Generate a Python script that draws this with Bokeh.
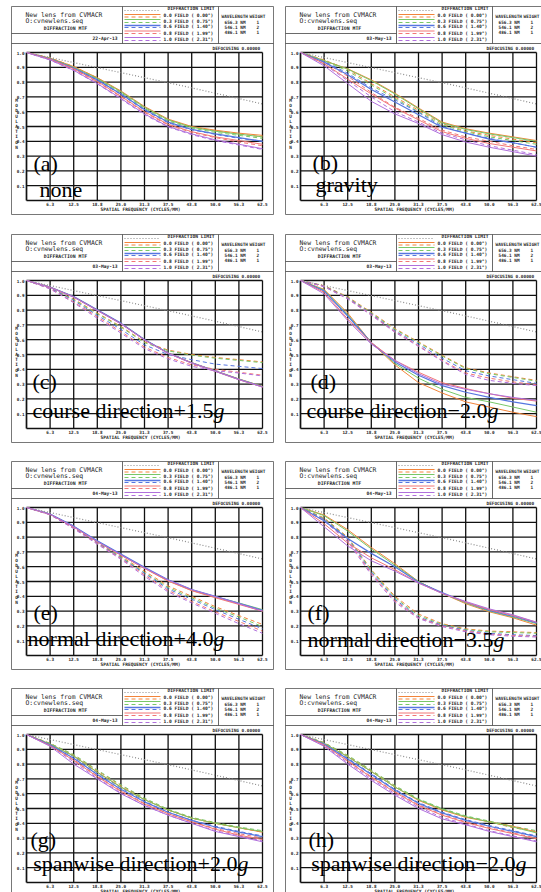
from bokeh.plotting import figure
from bokeh.layouts import column, row
from bokeh.models import Range1d
from bokeh.embed import file_html
from bokeh.resources import INLINE
from bokeh.core.properties import value

# ------------------------------------------------------------------ data
FREQ = [0, 6.25, 12.5, 18.75, 25.0, 31.25, 37.5, 43.75, 50.0, 56.25, 62.5]
FMAX = 62.5
X_TICKS = [6.25, 12.5, 18.75, 25.0, 31.25, 37.5, 43.75, 50.0, 56.25, 62.5]
X_TICK_LABELS = ["6.3", "12.5", "18.8", "25.0", "31.3", "37.5", "43.8", "50.0", "56.3", "62.5"]
Y_TICKS = [0.1, 0.2, 0.3, 0.4, 0.5, 0.6, 0.7, 0.8, 0.9, 1.0]
Y_TICK_LABELS = ["0.1", "0.2", "0.3", "0.4", "0.5", "0.6", "0.7", "0.8", "0.9", "1.0"]

DIFF_LIMIT = [1.0, 0.966, 0.932, 0.898, 0.864, 0.83, 0.796, 0.761, 0.725, 0.689, 0.652]

FIELDS = ["0.0", "0.3", "0.6", "0.8", "1.0"]
FIELD_ANGLES = ["0.00", "0.75", "1.40", "1.99", "2.31"]
WAVELENGTHS = ["656.3", "546.1", "486.1"]
WEIGHTS = ["1", "2", "1"]
DATES = ["22-Apr-13", "03-May-13", "03-May-13", "03-May-13",
         "04-May-13", "04-May-13", "04-May-13", "04-May-13"]
PANEL_TAGS = ["(a)", "(b)", "(c)", "(d)", "(e)", "(f)", "(g)", "(h)"]
PANEL_NAMES = ["none", "gravity", "course direction+1.5", "course direction\u22122.0",
               "normal direction+4.0", "normal direction\u22123.5",
               "spanwise direction+2.0", "spanwise direction\u22122.0"]
PANEL_ITALIC = ["", "", "g", "g", "g", "g", "g", "g"]

# tangential (solid) and sagittal (dashed) MTF, one list per field
A_TAN = [[1.0, 0.962, 0.905, 0.83, 0.74, 0.635, 0.55, 0.50, 0.475, 0.455, 0.44],
         [1.0, 0.960, 0.900, 0.825, 0.735, 0.63, 0.545, 0.495, 0.468, 0.448, 0.43],
         [1.0, 0.958, 0.895, 0.815, 0.72, 0.615, 0.53, 0.48, 0.45, 0.425, 0.40],
         [1.0, 0.955, 0.89, 0.805, 0.705, 0.60, 0.515, 0.465, 0.43, 0.405, 0.38],
         [1.0, 0.950, 0.88, 0.79, 0.69, 0.585, 0.50, 0.45, 0.41, 0.38, 0.35]]
A_SAG = [[1.0, 0.963, 0.905, 0.828, 0.735, 0.63, 0.545, 0.497, 0.47, 0.45, 0.43],
         [1.0, 0.961, 0.9, 0.82, 0.728, 0.622, 0.537, 0.49, 0.46, 0.44, 0.42],
         [1.0, 0.958, 0.893, 0.812, 0.717, 0.61, 0.525, 0.478, 0.447, 0.42, 0.40],
         [1.0, 0.954, 0.886, 0.80, 0.70, 0.595, 0.51, 0.46, 0.425, 0.395, 0.37],
         [1.0, 0.949, 0.878, 0.788, 0.686, 0.58, 0.497, 0.445, 0.405, 0.375, 0.345]]

B_TAN = [[1.0, 0.945, 0.89, 0.815, 0.725, 0.625, 0.53, 0.485, 0.455, 0.43, 0.405],
         [1.0, 0.945, 0.888, 0.81, 0.72, 0.62, 0.525, 0.48, 0.45, 0.425, 0.40],
         [1.0, 0.935, 0.85, 0.75, 0.665, 0.58, 0.495, 0.455, 0.415, 0.39, 0.36],
         [1.0, 0.925, 0.82, 0.72, 0.625, 0.545, 0.465, 0.42, 0.385, 0.36, 0.335],
         [1.0, 0.91, 0.79, 0.67, 0.585, 0.52, 0.445, 0.395, 0.36, 0.33, 0.30]]
B_SAG = [[1.0, 0.95, 0.885, 0.79, 0.70, 0.61, 0.52, 0.47, 0.44, 0.415, 0.39],
         [1.0, 0.945, 0.875, 0.78, 0.69, 0.60, 0.51, 0.465, 0.43, 0.405, 0.38],
         [1.0, 0.94, 0.86, 0.76, 0.68, 0.595, 0.50, 0.455, 0.42, 0.39, 0.36],
         [1.0, 0.935, 0.84, 0.73, 0.63, 0.555, 0.475, 0.43, 0.40, 0.37, 0.345],
         [1.0, 0.92, 0.81, 0.70, 0.60, 0.53, 0.455, 0.41, 0.37, 0.34, 0.31]]

C_TAN = [[1.0, 0.955, 0.89, 0.80, 0.71, 0.60, 0.51, 0.445, 0.39, 0.335, 0.285],
         [1.0, 0.955, 0.89, 0.80, 0.71, 0.60, 0.51, 0.444, 0.389, 0.334, 0.284],
         [1.0, 0.956, 0.892, 0.803, 0.712, 0.602, 0.51, 0.443, 0.388, 0.332, 0.282],
         [1.0, 0.954, 0.888, 0.798, 0.708, 0.598, 0.508, 0.442, 0.386, 0.33, 0.28],
         [1.0, 0.953, 0.887, 0.797, 0.707, 0.598, 0.508, 0.443, 0.387, 0.331, 0.28]]
C_SAG = [[1.0, 0.95, 0.875, 0.78, 0.69, 0.585, 0.53, 0.50, 0.48, 0.465, 0.45],
         [1.0, 0.95, 0.87, 0.775, 0.685, 0.58, 0.525, 0.495, 0.475, 0.46, 0.445],
         [1.0, 0.948, 0.865, 0.765, 0.67, 0.565, 0.50, 0.465, 0.435, 0.42, 0.405],
         [1.0, 0.945, 0.855, 0.755, 0.655, 0.55, 0.48, 0.43, 0.40, 0.38, 0.36],
         [1.0, 0.943, 0.85, 0.745, 0.645, 0.54, 0.47, 0.42, 0.39, 0.375, 0.355]]

D_TAN = [[1.0, 0.94, 0.78, 0.58, 0.43, 0.31, 0.24, 0.18, 0.145, 0.11, 0.08],
         [1.0, 0.935, 0.77, 0.58, 0.44, 0.34, 0.265, 0.21, 0.18, 0.145, 0.11],
         [1.0, 0.93, 0.76, 0.58, 0.45, 0.36, 0.29, 0.245, 0.21, 0.18, 0.155],
         [1.0, 0.92, 0.74, 0.58, 0.46, 0.38, 0.31, 0.27, 0.235, 0.205, 0.185],
         [1.0, 0.91, 0.73, 0.57, 0.46, 0.37, 0.30, 0.265, 0.235, 0.21, 0.19]]
D_SAG = [[1.0, 0.965, 0.89, 0.785, 0.675, 0.585, 0.495, 0.41, 0.375, 0.35, 0.325],
         [1.0, 0.963, 0.885, 0.78, 0.67, 0.58, 0.49, 0.405, 0.37, 0.345, 0.32],
         [1.0, 0.962, 0.882, 0.775, 0.66, 0.57, 0.475, 0.39, 0.355, 0.33, 0.305],
         [1.0, 0.96, 0.878, 0.77, 0.655, 0.56, 0.46, 0.375, 0.34, 0.315, 0.295],
         [1.0, 0.958, 0.875, 0.765, 0.65, 0.555, 0.455, 0.365, 0.325, 0.305, 0.29]]

E_TAN = [[1.0, 0.955, 0.87, 0.77, 0.68, 0.59, 0.505, 0.44, 0.395, 0.35, 0.30],
         [1.0, 0.955, 0.872, 0.772, 0.682, 0.592, 0.508, 0.443, 0.398, 0.355, 0.31],
         [1.0, 0.956, 0.874, 0.775, 0.686, 0.596, 0.512, 0.446, 0.40, 0.352, 0.305],
         [1.0, 0.953, 0.868, 0.768, 0.678, 0.588, 0.503, 0.438, 0.39, 0.345, 0.30],
         [1.0, 0.954, 0.87, 0.77, 0.68, 0.592, 0.51, 0.445, 0.398, 0.35, 0.30]]
E_SAG = [[1.0, 0.955, 0.865, 0.765, 0.67, 0.57, 0.47, 0.40, 0.33, 0.27, 0.21],
         [1.0, 0.955, 0.865, 0.762, 0.665, 0.56, 0.46, 0.39, 0.32, 0.26, 0.195],
         [1.0, 0.953, 0.862, 0.76, 0.66, 0.555, 0.45, 0.38, 0.31, 0.245, 0.18],
         [1.0, 0.952, 0.86, 0.757, 0.655, 0.545, 0.44, 0.365, 0.295, 0.23, 0.165],
         [1.0, 0.95, 0.857, 0.752, 0.65, 0.535, 0.43, 0.355, 0.285, 0.215, 0.15]]

F_TAN = [[1.0, 0.95, 0.85, 0.73, 0.62, 0.50, 0.42, 0.35, 0.295, 0.255, 0.205],
         [1.0, 0.945, 0.84, 0.72, 0.61, 0.50, 0.42, 0.355, 0.30, 0.26, 0.215],
         [1.0, 0.91, 0.79, 0.69, 0.60, 0.495, 0.425, 0.36, 0.305, 0.265, 0.22],
         [1.0, 0.89, 0.76, 0.66, 0.58, 0.49, 0.42, 0.36, 0.31, 0.27, 0.225],
         [1.0, 0.87, 0.74, 0.64, 0.57, 0.49, 0.42, 0.365, 0.315, 0.275, 0.225]]
F_SAG = [[1.0, 0.93, 0.80, 0.58, 0.40, 0.28, 0.215, 0.18, 0.165, 0.16, 0.155],
         [1.0, 0.925, 0.795, 0.575, 0.39, 0.27, 0.21, 0.175, 0.16, 0.155, 0.15],
         [1.0, 0.92, 0.79, 0.565, 0.38, 0.26, 0.205, 0.17, 0.15, 0.14, 0.135],
         [1.0, 0.915, 0.78, 0.555, 0.37, 0.255, 0.20, 0.165, 0.145, 0.135, 0.13],
         [1.0, 0.91, 0.77, 0.545, 0.36, 0.25, 0.195, 0.16, 0.14, 0.13, 0.125]]

G_TAN = [[1.0, 0.935, 0.855, 0.745, 0.645, 0.56, 0.49, 0.435, 0.40, 0.37, 0.34],
         [1.0, 0.935, 0.855, 0.745, 0.645, 0.56, 0.49, 0.435, 0.40, 0.37, 0.345],
         [1.0, 0.93, 0.84, 0.73, 0.63, 0.545, 0.475, 0.42, 0.375, 0.34, 0.31],
         [1.0, 0.925, 0.825, 0.715, 0.615, 0.53, 0.465, 0.41, 0.36, 0.32, 0.29],
         [1.0, 0.92, 0.80, 0.70, 0.60, 0.52, 0.455, 0.40, 0.345, 0.31, 0.275]]
G_SAG = [[1.0, 0.94, 0.86, 0.755, 0.655, 0.565, 0.49, 0.435, 0.40, 0.37, 0.34],
         [1.0, 0.94, 0.865, 0.76, 0.66, 0.57, 0.495, 0.44, 0.405, 0.375, 0.35],
         [1.0, 0.935, 0.85, 0.74, 0.64, 0.55, 0.475, 0.42, 0.38, 0.345, 0.315],
         [1.0, 0.93, 0.83, 0.72, 0.62, 0.535, 0.465, 0.41, 0.365, 0.33, 0.30],
         [1.0, 0.925, 0.815, 0.705, 0.605, 0.52, 0.455, 0.40, 0.35, 0.315, 0.28]]

H_TAN = [[1.0, 0.94, 0.85, 0.75, 0.645, 0.555, 0.49, 0.44, 0.41, 0.38, 0.34],
         [1.0, 0.94, 0.85, 0.75, 0.645, 0.56, 0.495, 0.445, 0.41, 0.375, 0.335],
         [1.0, 0.935, 0.835, 0.73, 0.625, 0.535, 0.47, 0.42, 0.38, 0.345, 0.31],
         [1.0, 0.93, 0.82, 0.71, 0.61, 0.52, 0.455, 0.405, 0.365, 0.33, 0.295],
         [1.0, 0.92, 0.80, 0.69, 0.59, 0.50, 0.43, 0.39, 0.345, 0.31, 0.275]]
H_SAG = [[1.0, 0.945, 0.855, 0.755, 0.65, 0.56, 0.495, 0.445, 0.41, 0.37, 0.345],
         [1.0, 0.945, 0.86, 0.76, 0.655, 0.565, 0.50, 0.45, 0.415, 0.38, 0.35],
         [1.0, 0.94, 0.84, 0.735, 0.63, 0.54, 0.475, 0.425, 0.385, 0.35, 0.315],
         [1.0, 0.935, 0.825, 0.715, 0.615, 0.525, 0.46, 0.41, 0.37, 0.335, 0.30],
         [1.0, 0.925, 0.81, 0.70, 0.60, 0.51, 0.44, 0.395, 0.35, 0.315, 0.28]]

PANEL_TAN = [A_TAN, B_TAN, C_TAN, D_TAN, E_TAN, F_TAN, G_TAN, H_TAN]
PANEL_SAG = [A_SAG, B_SAG, C_SAG, D_SAG, E_SAG, F_SAG, G_SAG, H_SAG]

# ------------------------------------------------------------------ styles / layout
FIELD_COLORS = ["#f2843a", "#78c868", "#5676e0", "#f27676", "#b070dc"]
DIFF_COLOR = "#8a8a8a"
ROW_H = [228, 227, 227, 210]
COL_W = [279, 262]
PANEL_LEFT = [11, 6]
PANEL_TOP = 6
PANEL_W = 262
PANEL_H = 208
PLOT_DX, PLOT_W = 15, 236
PLOT_DY, PLOT_H = 46, 148
# caption positions relative to panel (tag x, tag baseline) and (name x / italic start, name baseline)
TAG_POS = [(22, 157), (27, 156), (21, 147), (25, 147), (22, 151), (22, 151), (19, 151), (23, 151)]
NAME_POS = [(28, 183), (30, 178), (202, 176), (202, 176), (202, 177), (208, 178), (226, 175), (230, 175)]
LEG_SOLID = [8, 13, 19, 24.5, 31]
LEG_DASH = [10.5, 16, 21, 27, 34]
LEG_TEXT = [9, 14.5, 20, 26.5, 32.5]

MONO = value("DejaVu Sans Mono")
SERIF = value("Liberation Serif")
INK = "#1e1e1e"


def make_panel(i):
    r, c = divmod(i, 2)
    W, H = COL_W[c], ROW_H[r]
    L, T = PANEL_LEFT[c], PANEL_TOP
    ox, oy = L + PLOT_DX, T + PLOT_DY
    sx, sy = PLOT_W / FMAX, PLOT_H / 1.0
    p = figure(width=W, height=H,
               x_range=Range1d(-ox / sx, (W - ox) / sx),
               y_range=Range1d(1 - (H - oy) / sy, 1 + oy / sy),
               output_backend="svg", toolbar_location=None,
               x_axis_location=None, y_axis_location=None,
               min_border=0, background_fill_color="white",
               border_fill_color="white", outline_line_color=None)
    p.grid.visible = False
    p.extra_x_ranges = {"px": Range1d(0, W)}
    p.extra_y_ranges = {"px": Range1d(H, 0)}
    PX = dict(x_range_name="px", y_range_name="px")

    def txt(x, y, s, size, align="left", style="normal", baseline="middle",
            font=MONO, color=INK, **names):
        kw = names if names else PX
        p.text(x=x, y=y, text=s, text_font=font, text_font_size=size,
               text_align=align, text_baseline=baseline, text_font_style=style,
               text_color=color, **kw)

    # ---- frame of the panel
    p.quad(left=[L], right=[L + PANEL_W], top=[T], bottom=[T + PANEL_H],
           fill_color=None, line_color="#555555", line_width=0.8, **PX)
    p.segment(x0=[L, L + 111, L + 207, L], y0=[T + 37, T, T, T + 27],
              x1=[L + PANEL_W, L + 111, L + 207, L + 111],
              y1=[T + 37, T + 37, T + 37, T + 27],
              line_color="#444444", line_width=0.8, **PX)

    # ---- header: title block
    txt([L + 14, L + 14], [T + 8, T + 14.7], ["New lens from CVMACR", "O:cvnewlens.seq"], "6.4px")
    txt([L + 54], [T + 22.3], ["DIFFRACTION MTF"], "4.8px", align="center", style="bold")
    txt([L + 106], [T + 32.3], [DATES[i]], "4.6px", align="right", style="bold")

    # ---- header: legend block
    p.line([L + 113, L + 149], [T + 4, T + 4], line_color=DIFF_COLOR,
           line_dash="1 2", line_width=1.2, **PX)
    for k in range(5):
        p.line([L + 113, L + 149], [T + LEG_SOLID[k]] * 2, line_color=FIELD_COLORS[k],
               line_width=1.3 if k == 2 else 1.0, **PX)
        p.line([L + 113, L + 149], [T + LEG_DASH[k]] * 2, line_color=FIELD_COLORS[k],
               line_dash="4 3", line_width=1.0, **PX)
    txt([L + 156], [T + 2.3], ["DIFFRACTION LIMIT"], "4.6px", style="bold")
    txt([L + 152] * 5, [T + v for v in LEG_TEXT],
        [f"{FIELDS[k]} FIELD ( {FIELD_ANGLES[k]}\u00b0)" for k in range(5)], "4.6px", style="bold")

    # ---- header: wavelength block
    txt([L + 210], [T + 10], ["WAVELENGTH"], "4.4px", style="bold")
    txt([L + 238], [T + 10], ["WEIGHT"], "4.4px", style="bold")
    txt([L + 213] * 3, [T + 15.5, T + 20.5, T + 25.5], [f"{w} NM" for w in WAVELENGTHS], "4.4px", style="bold")
    txt([L + 245] * 3, [T + 15.5, T + 20.5, T + 25.5], WEIGHTS, "4.4px", style="bold")
    txt([L + 201], [T + 41.5], ["DEFOCUSING 0.00000"], "4.4px", style="bold")

    # ---- grid and axes (data space)
    p.segment(x0=X_TICKS, y0=[0] * len(X_TICKS), x1=X_TICKS, y1=[1.0] * len(X_TICKS),
              line_color="#111111", line_width=1.3)
    p.segment(x0=[0] * len(Y_TICKS), y0=Y_TICKS, x1=[FMAX] * len(Y_TICKS), y1=Y_TICKS,
              line_color="#111111", line_width=1.3)
    p.segment(x0=[0, 0], y0=[0, 0], x1=[0, FMAX], y1=[1.0, 0],
              line_color="#111111", line_width=1.7)

    # ---- tick labels / axis titles
    txt(X_TICKS, [T + 197.5] * len(X_TICKS), X_TICK_LABELS, "4.3px", align="center",
        style="bold", y_range_name="px")
    txt([L + 13] * len(Y_TICKS), Y_TICKS, Y_TICK_LABELS, "4.3px", align="right",
        style="bold", x_range_name="px")
    txt([L + 129], [T + 203.3], ["SPATIAL FREQUENCY (CYCLES/MM)"], "4.6px",
        align="center", style="bold")
    letters = list("MODULATION")
    txt([L + 5] * len(letters), [T + 94 + 5.2 * j for j in range(len(letters))], letters,
        "4.4px", align="center", style="bold")

    # ---- MTF curves
    p.line(FREQ, DIFF_LIMIT, line_color=DIFF_COLOR, line_dash="1 2", line_width=1.2)
    for k in range(5):
        p.line(FREQ, PANEL_SAG[i][k], line_color=FIELD_COLORS[k], line_dash="4 3", line_width=1.0)
    for k in range(5):
        p.line(FREQ, PANEL_TAN[i][k], line_color=FIELD_COLORS[k],
               line_width=1.2 if k == 2 else 1.0)

    # ---- panel caption
    tx, ty = TAG_POS[i]
    nx, ny = NAME_POS[i]
    txt([L + tx], [T + ty], [PANEL_TAGS[i]], "22px", baseline="alphabetic", font=SERIF, color="#000000")
    if PANEL_ITALIC[i]:
        txt([L + nx], [T + ny], [PANEL_NAMES[i]], "22px", align="right",
            baseline="alphabetic", font=SERIF, color="#000000")
        txt([L + nx], [T + ny], [PANEL_ITALIC[i]], "22px", style="italic",
            baseline="alphabetic", font=SERIF, color="#000000")
    else:
        txt([L + nx], [T + ny], [PANEL_NAMES[i]], "22px",
            baseline="alphabetic", font=SERIF, color="#000000")
    return p


panels = [make_panel(i) for i in range(8)]
layout = column(*[row(panels[2 * r], panels[2 * r + 1], spacing=0) for r in range(4)], spacing=0)

open("out.html", "w").write(file_html(layout, INLINE))
